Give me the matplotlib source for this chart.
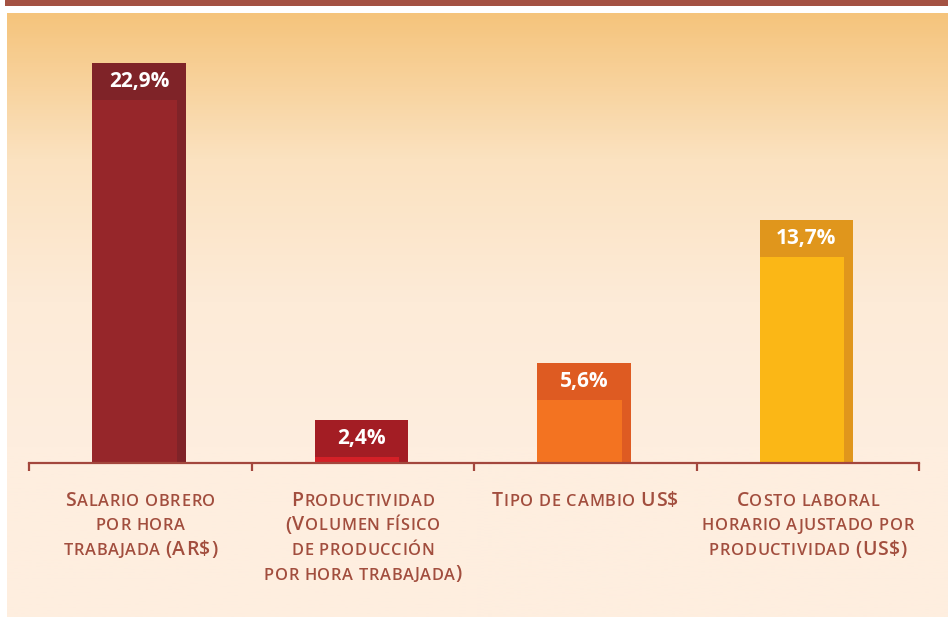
import matplotlib
matplotlib.use("Agg")
import matplotlib.pyplot as plt
import numpy as np
from matplotlib.colors import LinearSegmentedColormap
from matplotlib.transforms import IdentityTransform
from matplotlib import font_manager
from matplotlib.ft2font import FT2Font

# datos
categorias = [
    ["Salario obrero", "por hora", "trabajada (AR$)"],
    ["Productividad", "(Volumen físico", "de producción", "por hora trabajada)"],
    ["Tipo de cambio US$"],
    ["Costo laboral", "horario ajustado por", "productividad (US$)"],
]
valores = [22.9, 2.4, 5.6, 13.7]
# altura dibujada de cada barra (el grafico no es proporcional)
altura_barra = [22.9, 0.38, 3.97, 13.0]
etiquetas = ["22,9%", "2,4%", "5,6%", "13,7%"]

color_claro = ["#96262A", "#D42027", "#F37321", "#FBB716"]
color_oscuro = ["#7F2328", "#A31D24", "#DE5B22", "#E0961C"]
color_texto = "#A24E3E"
caja = 2.35

W, H = 948, 617
fig = plt.figure(figsize=(W / 100, H / 100), dpi=100)
fig.patch.set_facecolor("white")

# fondo degradado
bg = fig.add_axes([7 / W, 0, 1 - 7 / W, (H - 13) / H])
bg.set_axis_off()
cmap = LinearSegmentedColormap.from_list("fondo", ["#F5C47C", "#FBE2C0", "#FDEBD8", "#FEEEDF"])
grad = np.linspace(0, 1, 400)
grad = np.clip(grad / 0.72, 0, 1)[:, None]
bg.imshow(grad, aspect="auto", cmap=cmap, extent=[0, 1, 0, 1], origin="upper")

# banda superior
band = fig.add_axes([5 / W, (H - 6) / H, 1 - 5 / W, 6 / H])
band.set_axis_off()
band.add_patch(plt.Rectangle((0, 0), 1, 1, color="#A45243", transform=band.transAxes))

ax = fig.add_axes([29 / W, (H - 463) / H, 890 / W, 450 / H])
ax.patch.set_alpha(0)
x = np.arange(len(valores))
ancho = 0.42
ancho_in = 0.38
ax.bar(x - ancho / 2 - 0.006, [h + caja for h in altura_barra], width=ancho, align="edge",
       color=color_oscuro, zorder=2)
ax.bar(x - ancho / 2 - 0.006, altura_barra, width=ancho_in, align="edge",
       color=color_claro, zorder=3)
for xi, h, t in zip(x, altura_barra, etiquetas):
    ax.text(xi - 0.006, h + caja / 2, t, ha="center", va="center", color="white",
            fontsize=15, fontweight="bold", family="Open Sans", zorder=4)

ax.set_xlim(-0.5, 3.5)
ax.set_ylim(0, 450 / 15.85)
for s in ["top", "left", "right"]:
    ax.spines[s].set_visible(False)
ax.spines["bottom"].set_color("#A3473D")
ax.spines["bottom"].set_linewidth(1.6)
ax.spines["bottom"].set_zorder(5)
ax.set_yticks([])
ax.set_xticks(np.arange(-0.5, 4, 1))
ax.set_xticklabels([])
ax.tick_params(axis="x", direction="out", length=6, width=1.6, color="#A3473D")

# etiquetas en versalitas, letra a letra
BIG, SMALL = 14, 11.8
FUENTE = "Open Sans"
PESO = "semibold"
TRACK = 0.7
ruta = font_manager.findfont(font_manager.FontProperties(family=FUENTE, weight=PESO))
ft = FT2Font(ruta)


def avance(ch, size):
    ft.set_size(size, 100)
    g = ft.load_char(ord(ch))
    return g.linearHoriAdvance / 65536


def linea(xc, yb, texto):
    partes = []
    for ch in texto:
        size = SMALL if (ch.islower() or ch == " ") else BIG
        c = ch.upper()
        partes.append((c, size, avance(c, size) + TRACK))
    total = sum(p[2] for p in partes) - TRACK
    xx = xc - total / 2
    for c, size, w in partes:
        if c != " ":
            fig.text(xx, yb, c, fontsize=size, family=FUENTE, weight=PESO,
                     color=color_texto, transform=IdentityTransform(),
                     ha="left", va="baseline")
        xx += w


for xi, lineas in zip(x, categorias):
    xc = ax.transData.transform((xi, 0))[0]
    for j, l in enumerate(lineas):
        linea(xc, H - (506 + 24.5 * j), l)

fig.savefig("out.png", dpi=100)
